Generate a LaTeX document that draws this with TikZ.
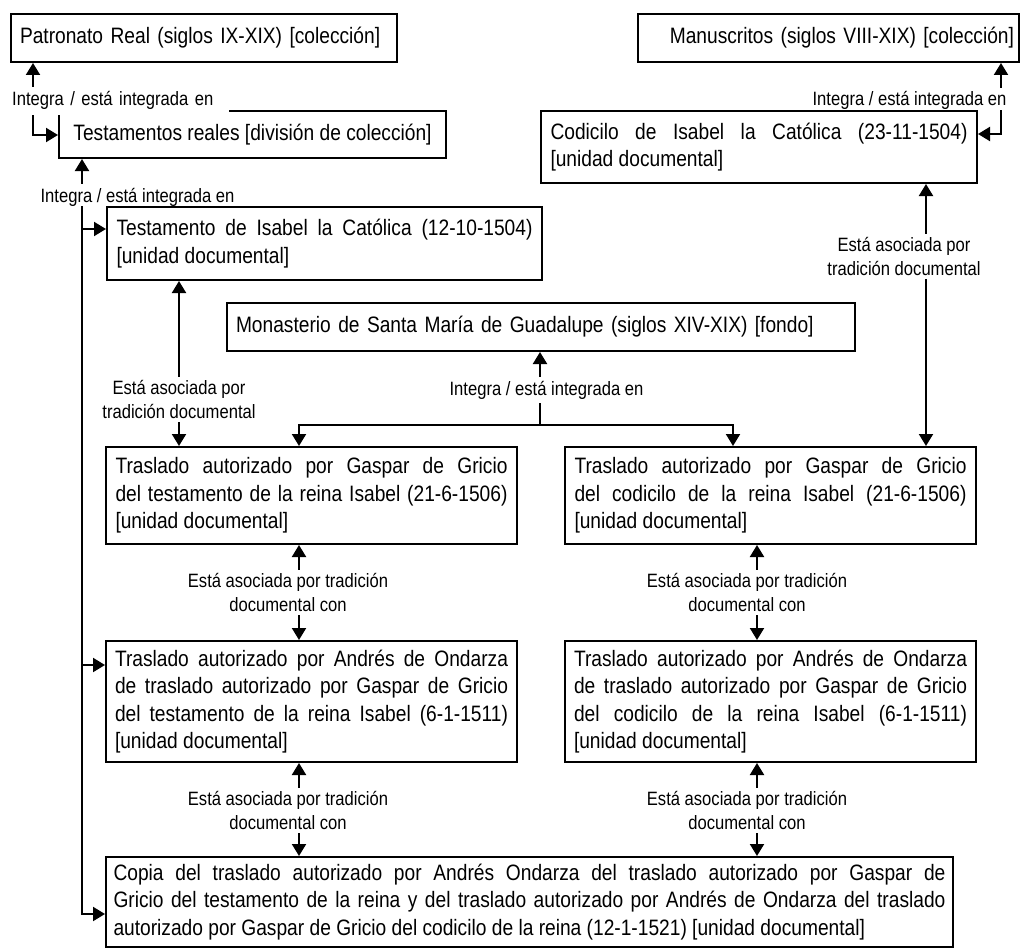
\documentclass[tikz,border=0pt]{standalone}
\usepackage{fontspec}
\setmainfont{Liberation Sans}[FakeStretch=0.86]
\usetikzlibrary{arrows.meta}
\tolerance=9999
\hyphenpenalty=10000
\exhyphenpenalty=10000
\newcommand\boxfont{\fontsize{22.3pt}{27.4pt}\selectfont}
\newcommand\lblfont{\fontsize{19.3pt}{23.3pt}\selectfont}
\newcommand\lb{\linebreak{}}
\tikzset{
  docbox/.style={draw, line width=2pt, rectangle, inner sep=0pt, font=\boxfont, align=justify},
  lbl/.style={fill=white, inner xsep=2pt, inner ysep=4pt, font=\lblfont, align=center},
  conn/.style={line width=2pt, >={Triangle[length=12pt,width=14pt]}},
}
\begin{document}
\begin{tikzpicture}[x=1pt,y=-1pt]
\useasboundingbox (0,0) rectangle (1021,950);
% boxes
\node[docbox, minimum width=386pt, minimum height=48pt, text width=368pt, align=left] (pat) at (204,38) {Patronato Real (siglos IX-XIX) [colección]};
\node[docbox, minimum width=381pt, minimum height=48pt, text width=371pt, align=right] (man) at (828.5,38) {Manuscritos (siglos VIII-XIX) [colección]};
\node[docbox, minimum width=387pt, minimum height=47pt, align=center] (tr) at (252.5,134.5) {Testamentos reales [división de colección]};
\node[docbox, minimum width=436pt, minimum height=72pt, text width=417pt] (cod) at (759,147) {Codicilo de Isabel la Católica (23-11-1504)\lb [unidad documental]};
\node[docbox, minimum width=435pt, minimum height=73pt, text width=416pt] (ti) at (324.5,243.5) {Testamento de Isabel la Católica (12-10-1504)\lb [unidad documental]};
\node[docbox, minimum width=628pt, minimum height=48pt, text width=610pt, align=left] (mon) at (541,327) {Monasterio de Santa María de Guadalupe (siglos XIV-XIX) [fondo]};
\node[docbox, minimum width=411pt, minimum height=97pt, text width=392pt] (gt) at (311.5,495.5) {Traslado autorizado por Gaspar de Gricio\lb del testamento de la reina Isabel (21-6-1506)\lb [unidad documental]};
\node[docbox, minimum width=411pt, minimum height=97pt, text width=392pt] (gc) at (770.5,495.5) {Traslado autorizado por Gaspar de Gricio\lb del codicilo de la reina Isabel (21-6-1506)\lb [unidad documental]};
\node[docbox, minimum width=411pt, minimum height=121pt, text width=393pt] (at) at (311.5,701.5) {Traslado autorizado por Andrés de Ondarza\lb de traslado autorizado por Gaspar de Gricio\lb del testamento de la reina Isabel (6-1-1511)\lb [unidad documental]};
\node[docbox, minimum width=411pt, minimum height=121pt, text width=393pt] (ac) at (770.5,701.5) {Traslado autorizado por Andrés de Ondarza\lb de traslado autorizado por Gaspar de Gricio\lb del codicilo de la reina Isabel (6-1-1511)\lb [unidad documental]};
\node[docbox, minimum width=847pt, minimum height=90pt, text width=832pt] (bot) at (529.5,902) {Copia del traslado autorizado por Andrés Ondarza del traslado autorizado por Gaspar de\lb Gricio del testamento de la reina y del traslado autorizado por Andrés de Ondarza del traslado\lb autorizado por Gaspar de Gricio del codicilo de la reina (12-1-1521) [unidad documental]};
% helper coordinates
\coordinate (trin) at ([yshift=-25pt]tr.north west);
\coordinate (codin) at ([yshift=-24pt]cod.north east);
\coordinate (vl) at ([xshift=24pt]tr.south west);
\coordinate (tiin) at ([yshift=-23pt]ti.north west);
\coordinate (atin) at ([yshift=-25pt]at.north west);
\coordinate (botin) at ([yshift=-58pt]bot.north west);
\coordinate (c4) at ([xshift=73pt]ti.south west);
\coordinate (c5) at ([xshift=386pt]cod.south west);
\coordinate (c6) at ([xshift=314pt]mon.south west);
\coordinate (fork) at ([yshift=-73pt]c6);
\coordinate (gtin) at ([xshift=194pt]gt.north west);
\coordinate (gcin) at ([xshift=169pt]gc.north west);
\coordinate (c7) at ([xshift=194pt]gt.south west);
\coordinate (c8) at ([xshift=193pt]gc.south west);
\coordinate (c9) at ([xshift=194pt]at.south west);
\coordinate (c10) at ([xshift=193pt]ac.south west);
% connectors
\draw[conn,<->] ([xshift=23pt]pat.south west) |- (trin);
\draw[conn,<->] ([xshift=-19pt]man.south east) |- (codin);
\draw[conn,<->] (vl) |- (botin);
\draw[conn,->] (vl |- tiin) -- (tiin);
\draw[conn,->] (vl |- atin) -- (atin);
\draw[conn,<->] (c4) -- (c4 |- gt.north);
\draw[conn,<->] (c5) -- (c5 |- gc.north);
\draw[conn,->] (fork) -- (c6);
\draw[conn,->] (fork) -| (gtin);
\draw[conn,->] (fork) -| (gcin);
\draw[conn,<->] (c7) -- (c7 |- at.north);
\draw[conn,<->] (c8) -- (c8 |- ac.north);
\draw[conn,<->] (c9) -- (c9 |- bot.north);
\draw[conn,<->] (c10) -- (c10 |- bot.north);
% labels
\node[lbl, anchor=base west, text width=215pt, align=left, inner ysep=5pt] (l1) at (10,106) {Integra / está integrada en};
\node[lbl, anchor=base, text depth=0pt] (l2) at (909.5,106) {Integra / está integrada en};
\node[lbl, anchor=base, text depth=0pt] (l3) at (137.5,202) {Integra / está integrada en};
\node[lbl] (l4) at (179,399.5) {Está asociada por\\tradición documental};
\node[lbl] (l5) at (904,256.5) {Está asociada por\\tradición documental};
\node[lbl, anchor=base] (l6) at (546.5,395) {Integra / está integrada en};
\node[lbl] (l7) at (288,592.5) {Está asociada por tradición\\documental con};
\node[lbl] (l8) at (747,592.5) {Está asociada por tradición\\documental con};
\node[lbl] (l9) at (288,810.5) {Está asociada por tradición\\documental con};
\node[lbl] (l10) at (747,810.5) {Está asociada por tradición\\documental con};
\end{tikzpicture}
\end{document}
